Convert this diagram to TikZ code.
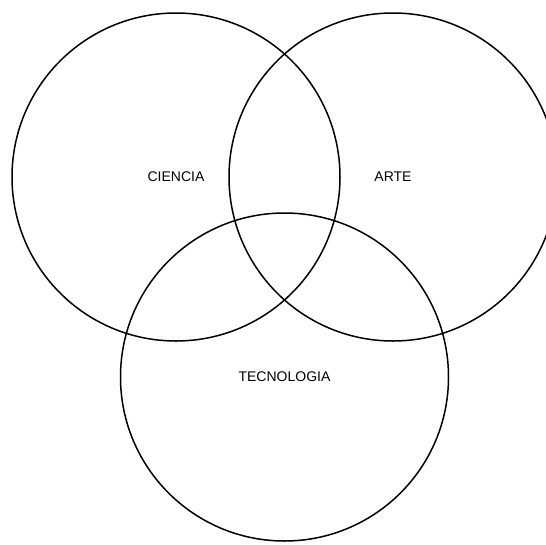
\documentclass[tikz,border=0pt]{standalone}
\usepackage{fontspec}
\setmainfont{Liberation Sans}
\usepackage{tikz}

\begin{document}
\begin{tikzpicture}[x=1pt, y=-1pt,
			conjunto/.style={circle, draw=black, line width=1.5pt, minimum size=328pt,
				inner sep=0pt, font=\fontsize{14}{16}\selectfont},
			]
			\useasboundingbox (0,0) rectangle (546,544);
			\node [conjunto] (ciencia) at (176,177) {CIENCIA};
			\node [conjunto] (arte) at (393,177) {ARTE};
			\node [conjunto] (tecnologia) at (284.5,377) {TECNOLOGIA};
		\end{tikzpicture}
\end{document}
